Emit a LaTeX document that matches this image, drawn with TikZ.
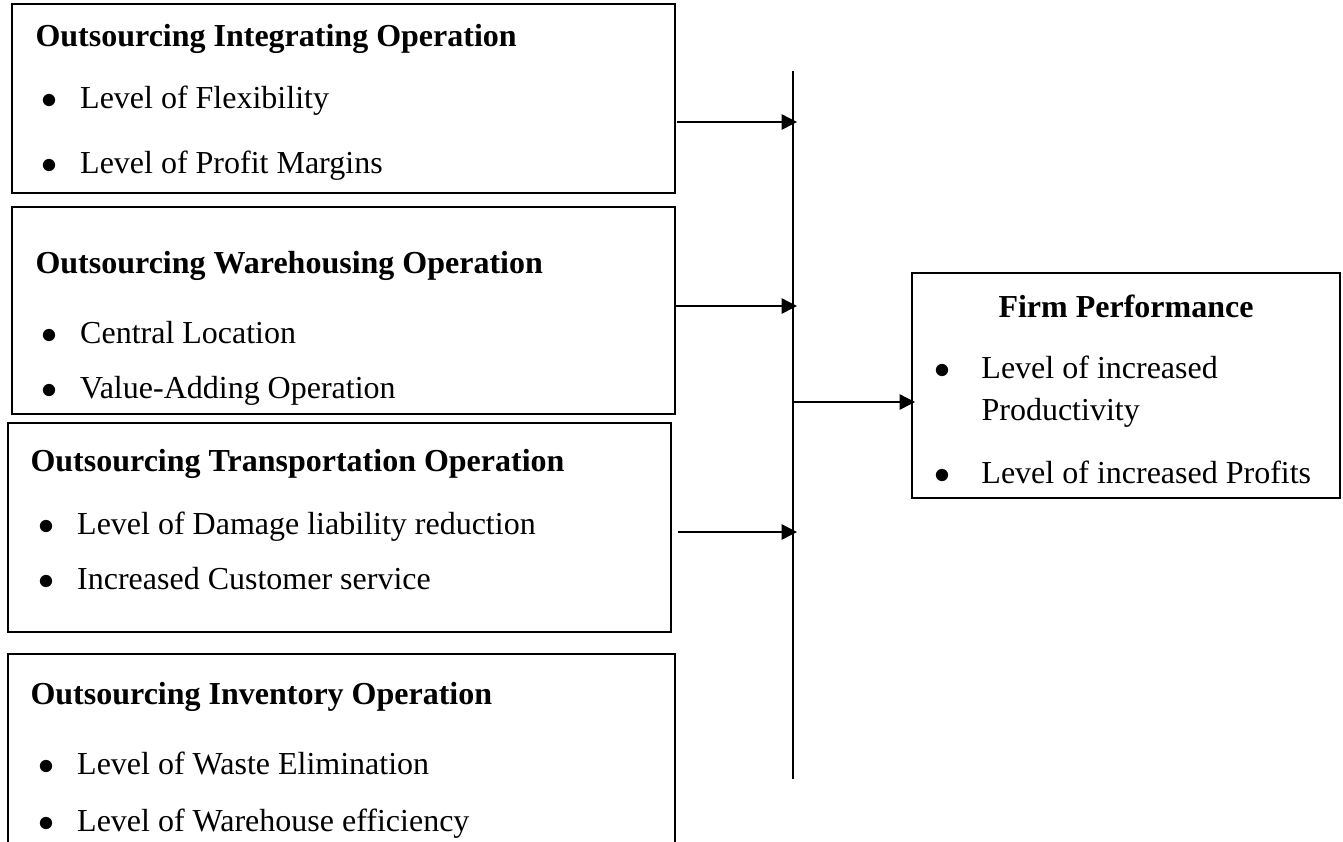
\documentclass[tikz,border=0pt]{standalone}
\usepackage{fontspec}
\setmainfont{Liberation Serif}
\usetikzlibrary{arrows.meta,fit,positioning}
\newcommand{\txtsize}{\fontsize{12pt}{14pt}\selectfont}
\tikzset{
  opbox/.style={draw,line width=0.75pt,inner sep=0pt},
  head/.style={anchor=base west,inner sep=0pt,font=\txtsize\bfseries},
  item/.style={anchor=base west,inner sep=0pt,font=\txtsize},
  link/.style={line width=0.5pt,-{Triangle[length=5.8pt,width=5.8pt]}}
}
\newcommand{\bul}{\makebox[14.5pt][l]{$\bullet$}}

\begin{document}
\begin{tikzpicture}[x=0.375pt,y=-0.375pt]
\useasboundingbox (0,0) rectangle (1343,841);
\clip (0,0) rectangle (1343,841);

% Draw the four operation boxes.
\node[opbox,fit={(12,4) (675,193)}] (integ) {};
\node[opbox,fit={(12,207) (675,414)}] (wareh) {};
\node[opbox,fit={(8,423) (671,632)}] (transp) {};
\node[opbox,fit={(8,654) (675,870)}] (invent) {};

% Texts of the operation boxes.
\node[head] (integ-h) at (35,46) {Outsourcing Integrating Operation};
\node[item] (integ-1) at (41,108) {\bul Level of Flexibility};
\node[item] (integ-2) at (41,173) {\bul Level of Profit Margins};

\node[head] (wareh-h) at (35,273) {Outsourcing Warehousing Operation};
\node[item] (wareh-1) at (41,343) {\bul Central Location};
\node[item] (wareh-2) at (41,398) {\bul Value-Adding Operation};

\node[head] (transp-h) at (30,471) {Outsourcing Transportation Operation};
\node[item] (transp-1) at (38,534) {\bul Level of Damage liability reduction};
\node[item] (transp-2) at (38,589) {\bul Increased Customer service};

\node[head] (invent-h) at (30,704) {Outsourcing Inventory Operation};
\node[item] (invent-1) at (38,774) {\bul Level of Waste Elimination};
\node[item] (invent-2) at (38,831) {\bul Level of Warehouse efficiency};

% Draw the firm performance box.
\node[opbox,fit={(912,273) (1340,498)}] (firm) {};
\node[anchor=base,inner sep=0pt,font=\txtsize\bfseries] (firm-h) at (1126,317) {Firm Performance};
\node[item] (firm-1) at (934,378) {\makebox[17.6pt][l]{$\bullet$}Level of increased};
\node[item] (firm-1b) at (981,420) {Productivity};
\node[item] (firm-2) at (934,483) {\makebox[17.6pt][l]{$\bullet$}Level of increased Profits};

% Draw the vertical bar.
\coordinate (bartop) at (793,71);
\coordinate (barbot) at (793,779);
\draw[line width=0.75pt] (bartop) -- (barbot);

% Draw arrows into the bar.
\coordinate (in1) at (677,122);
\coordinate (in2) at (676,306);
\coordinate (in3) at (678,532);
\foreach \c in {in1,in2,in3}
\draw[link] (\c) -- ([xshift=1.5pt]\c -| bartop);

% Draw arrow out of the bar.
\coordinate (out) at (793,402);
\draw[link] (out) -- ([xshift=1.5pt]out -| firm.west);
\end{tikzpicture}
\end{document}
